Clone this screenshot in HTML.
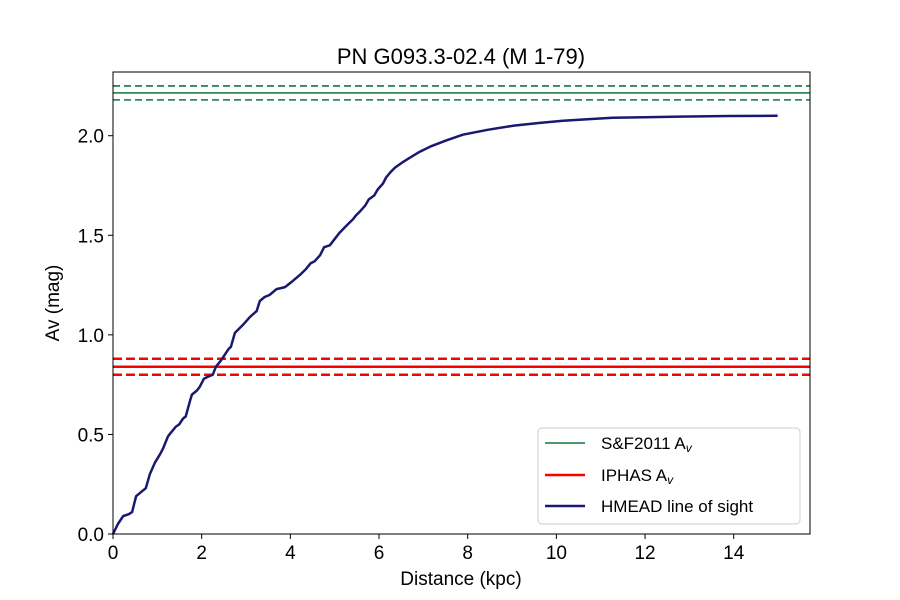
<!DOCTYPE html>
<html><head><meta charset="utf-8"><style>
body{margin:0;background:#fff;}
svg{display:block;font-family:"Liberation Sans","DejaVu Sans",sans-serif;}
</style></head><body>
<svg id="chart" width="900" height="600">
<rect width="900" height="600" fill="#fff"/>
<text x="461" y="64" font-size="22" text-anchor="middle">PN G093.3-02.4 (M 1-79)</text>
<g id="marks"></g>
<rect x="113" y="72" width="697" height="462" fill="none" stroke="#000" stroke-width="1"/>
<g id="axes"></g>
<text x="461" y="585" font-size="19" text-anchor="middle">Distance (kpc)</text>
<text transform="translate(59,303) rotate(-90)" font-size="19" text-anchor="middle">Av (mag)</text>
<g>
<rect x="538" y="428" width="262" height="96" rx="4" fill="#fff" stroke="#ccc"/>
<g><line x1="545" y1="443" x2="585" y2="443" stroke="#2e8b57" stroke-width="1.8"/><text x="601" y="449" font-size="17">S&amp;F2011 A<tspan font-size="12" dy="3" font-style="italic">v</tspan></text></g>
<g><line x1="545" y1="475" x2="585" y2="475" stroke="#ff0000" stroke-width="2.5"/><text x="601" y="481" font-size="17">IPHAS A<tspan font-size="12" dy="3" font-style="italic">v</tspan></text></g>
<g><line x1="545" y1="506" x2="585" y2="506" stroke="#191970" stroke-width="2.5"/><text x="601" y="512" font-size="17">HMEAD line of sight</text></g>
</g>
</svg>
<script>
const distances=[0,0.11,0.23,0.36,0.43,0.52,0.63,0.74,0.83,0.95,1.06,1.13,1.24,1.31,1.42,1.49,1.58,1.64,1.74,1.78,1.89,1.96,2.05,2.14,2.25,2.32,2.43,2.52,2.61,2.66,2.75,2.84,2.93,3.09,3.24,3.31,3.42,3.53,3.69,3.88,4.05,4.21,4.35,4.46,4.55,4.67,4.76,4.89,4.96,5.10,5.23,5.32,5.41,5.48,5.57,5.69,5.77,5.89,5.97,6.09,6.16,6.27,6.36,6.52,6.70,6.92,7.15,7.50,7.89,8.45,9.02,9.60,10.15,10.70,11.27,12.0,12.78,13.9,14.99];
const avValues=[0,0.05,0.09,0.10,0.11,0.19,0.21,0.23,0.30,0.36,0.40,0.43,0.49,0.51,0.54,0.55,0.58,0.59,0.67,0.70,0.72,0.74,0.78,0.79,0.80,0.84,0.87,0.90,0.93,0.94,1.01,1.03,1.05,1.09,1.12,1.17,1.19,1.20,1.23,1.24,1.27,1.30,1.33,1.36,1.37,1.40,1.44,1.45,1.47,1.51,1.54,1.56,1.58,1.60,1.62,1.65,1.68,1.70,1.73,1.76,1.79,1.82,1.84,1.865,1.89,1.92,1.945,1.975,2.005,2.03,2.05,2.064,2.075,2.083,2.09,2.093,2.096,2.099,2.10];
const sfAv=[2.18,2.215,2.25];
const iphasAv=[0.80,0.84,0.88];
const xTicks=[0,2,4,6,8,10,12,14];
const yTicks=[0.0,0.5,1.0,1.5,2.0];
const xMin=0,xMax=15.72,yMin=0,yMax=2.32;
const L=113,R=810,T=72,B=534;
const sx=v=>L+(v-xMin)/(xMax-xMin)*(R-L);
const sy=v=>B-(v-yMin)/(yMax-yMin)*(B-T);
const NS="http://www.w3.org/2000/svg";
const marks=document.getElementById('marks');
const axes=document.getElementById('axes');
function mk(tag,attrs,parent){const e=document.createElementNS(NS,tag);for(const k in attrs)e.setAttribute(k,attrs[k]);parent.appendChild(e);return e;}
sfAv.forEach((v,i)=>{
  const l=mk('line',{x1:L,x2:R,y1:sy(v),y2:sy(v),stroke:'#2e8b57','stroke-width':1.8},marks);
  if(i!==1)l.setAttribute('stroke-dasharray','7,4');
  
  
});
iphasAv.forEach((v,i)=>{
  const l=mk('line',{x1:L,x2:R,y1:sy(v),y2:sy(v),stroke:'#ff0000','stroke-width':2.5},marks);
  if(i!==1)l.setAttribute('stroke-dasharray','9,4');
  
  
});
const pts=distances.map((d,i)=>sx(d).toFixed(1)+','+sy(avValues[i]).toFixed(1)).join(' ');
const pl=mk('polyline',{points:pts,fill:'none',stroke:'#191970','stroke-width':2.5,'stroke-linejoin':'round'},marks);


xTicks.forEach(t=>{
  const g=mk('g',{},axes);
  
  
  mk('line',{x1:sx(t),x2:sx(t),y1:B,y2:B+5,stroke:'#000'},g);
  const tx=mk('text',{x:sx(t),y:B+25,'font-size':19,'text-anchor':'middle'},g);tx.textContent=t;
});
yTicks.forEach(t=>{
  const g=mk('g',{},axes);
  
  
  mk('line',{x1:L-5,x2:L,y1:sy(t),y2:sy(t),stroke:'#000'},g);
  const tx=mk('text',{x:L-9,y:sy(t)+7,'font-size':19,'text-anchor':'end'},g);tx.textContent=t.toFixed(1);
});
</script>
</body></html>
